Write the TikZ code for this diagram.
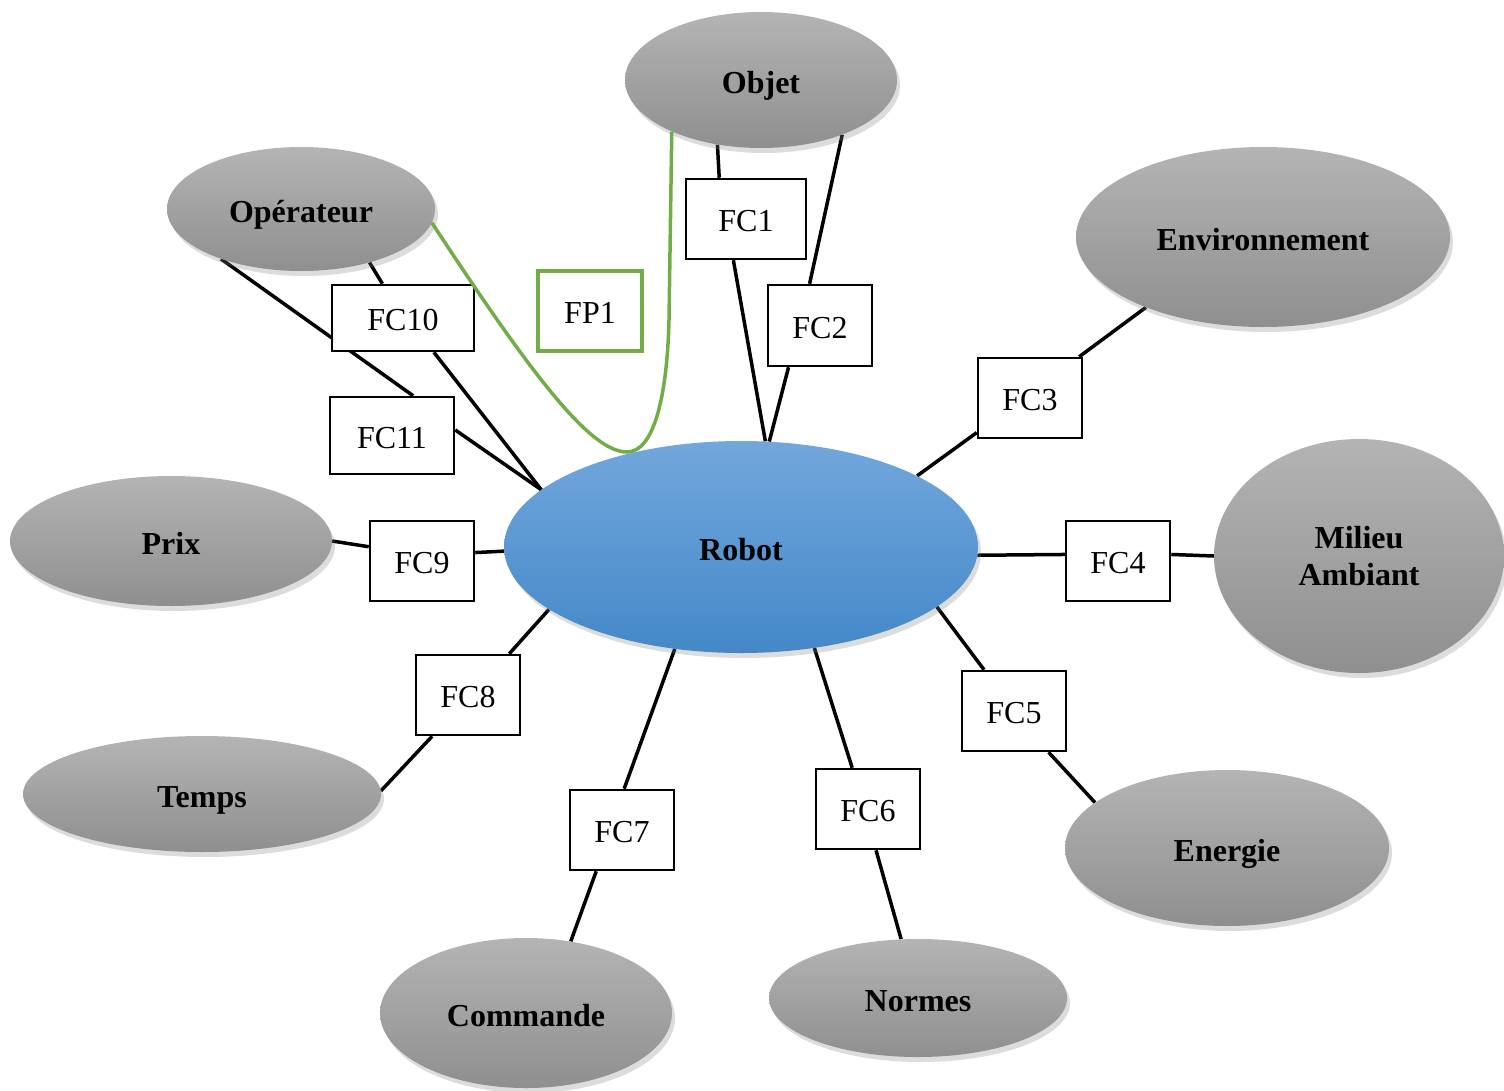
\documentclass[tikz,border=0pt]{standalone}
\usepackage{fontspec}
\setmainfont{Liberation Serif}
\usetikzlibrary{shapes.geometric,shadows}
\definecolor{gtop}{HTML}{B4B4B4}
\definecolor{gbot}{HTML}{8F8F8F}
\definecolor{btop}{HTML}{72A7DC}
\definecolor{bbot}{HTML}{4488C8}
\definecolor{fpgreen}{HTML}{70AD47}
\pgfdeclarelayer{background}
\pgfsetlayers{background,main}
\begin{document}
\begin{tikzpicture}[x=1pt,y=-1pt,
  ell/.style={ellipse, inner sep=0pt, top color=gtop, bottom color=gbot, draw=none,
    font=\fontsize{32}{37}\selectfont\bfseries, align=center,
    drop shadow={opacity=0.28, shadow xshift=3pt, shadow yshift=-5pt}},
  oneline/.style={text height=26pt, text depth=0pt},
  fcbox/.style={rectangle, draw=black, line width=2.5pt, fill=white, inner sep=0pt,
    font=\fontsize{32}{37}\selectfont, text height=25pt, text depth=0pt},
  link/.style={line width=3.5pt, black},
  fpline/.style={line width=3.5pt, fpgreen},
]
\useasboundingbox (0,0) rectangle (1504,1090);

% ellipses
\node[ell, oneline, minimum width=272pt, minimum height=136pt] (objet) at (761,80) {Objet};
\node[ell, oneline, minimum width=268pt, minimum height=124pt] (oper) at (301,209) {Opérateur};
\node[ell, oneline, minimum width=374pt, minimum height=180pt] (env) at (1263,237) {Environnement};
\node[ell, minimum width=290pt, minimum height=234pt] (milieu) at (1359,556) {Milieu\\Ambiant};
\node[ell, oneline, minimum width=324pt, minimum height=156pt] (energie) at (1227,848) {Energie};
\node[ell, oneline, minimum width=298pt, minimum height=118pt] (normes) at (918,998) {Normes};
\node[ell, oneline, minimum width=292pt, minimum height=150pt] (commande) at (526,1013) {Commande};
\node[ell, oneline, minimum width=358pt, minimum height=116pt] (temps) at (202,794) {Temps};
\node[ell, oneline, minimum width=322pt, minimum height=130pt] (prix) at (171,541) {Prix};
\node[ell, oneline, top color=btop, bottom color=bbot, minimum width=474pt, minimum height=212pt] (robot) at (741,547) {Robot};

% boxes
\node[fcbox, minimum width=120pt, minimum height=80pt] (fc1) at (746,219) {FC1};
\node[fcbox, minimum width=104pt, minimum height=81pt] (fc2) at (820,325.5) {FC2};
\node[fcbox, minimum width=104pt, minimum height=80pt] (fc3) at (1030,398) {FC3};
\node[fcbox, minimum width=104pt, minimum height=80pt] (fc4) at (1118,561) {FC4};
\node[fcbox, minimum width=104pt, minimum height=80pt] (fc5) at (1014,711) {FC5};
\node[fcbox, minimum width=104pt, minimum height=80pt] (fc6) at (868,809) {FC6};
\node[fcbox, minimum width=104pt, minimum height=80pt] (fc7) at (622,830) {FC7};
\node[fcbox, minimum width=104pt, minimum height=80pt] (fc8) at (468,695) {FC8};
\node[fcbox, minimum width=104pt, minimum height=80pt] (fc9) at (422,561) {FC9};
\node[fcbox, minimum width=142pt, minimum height=66pt] (fc10) at (403,318) {FC10};
\node[fcbox, minimum width=124pt, minimum height=77pt] (fc11) at (392,435.5) {FC11};
\node[fcbox, draw=fpgreen, line width=3.5pt, minimum width=104pt, minimum height=80pt] (fp1) at (590,311) {FP1};

\coordinate (fpbot) at (627,452);
\coordinate (fpmid) at (669,320);

\begin{pgfonlayer}{background}
\draw[link] (objet.236) -- (fc1.123);
\draw[link] (fc1.253) -- (robot.77);
\draw[link] (objet.-34) -- (fc2.104);
\draw[link] (fc2.-127) -- (robot.75);
\draw[link] (env.211) -- (fc3.40);
\draw[link] (fc3.213) -- (robot.22);
\draw[link] (robot.-2) -- (fc4.173);
\draw[link] (fc4.7) -- (milieu.180);
\draw[link] (robot.-17.6) -- (fc5.126);
\draw[link] (fc5.-50) -- (energie.161);
\draw[link] (robot.-54) -- (fc6.111);
\draw[link] (fc6.-79) -- (normes.106);
\draw[link] (robot.237) -- (fc7.87);
\draw[link] (fc7.238) -- (commande.58);
\draw[link] (robot.198) -- (fc8.45);
\draw[link] (fc8.229) -- (temps.1.3);
\draw[link] (prix.-0.7) -- (fc9.165);
\draw[link] (fc9.9.8) -- (robot.181.7);
\draw[link] (oper.-38) -- (fc10.121);
\draw[link] (fc10.-48) -- (robot.164);
\draw[link] (oper.212) -- (fc11.62.5);
\draw[link] (fc11.5) -- (robot.164);
\end{pgfonlayer}

\draw[fpline] (oper.-6) .. controls (531,374) and (590,452) .. (fpbot)
  .. controls (653,452) and (667,400) .. (fpmid) -- (objet.210);
\end{tikzpicture}
\end{document}
